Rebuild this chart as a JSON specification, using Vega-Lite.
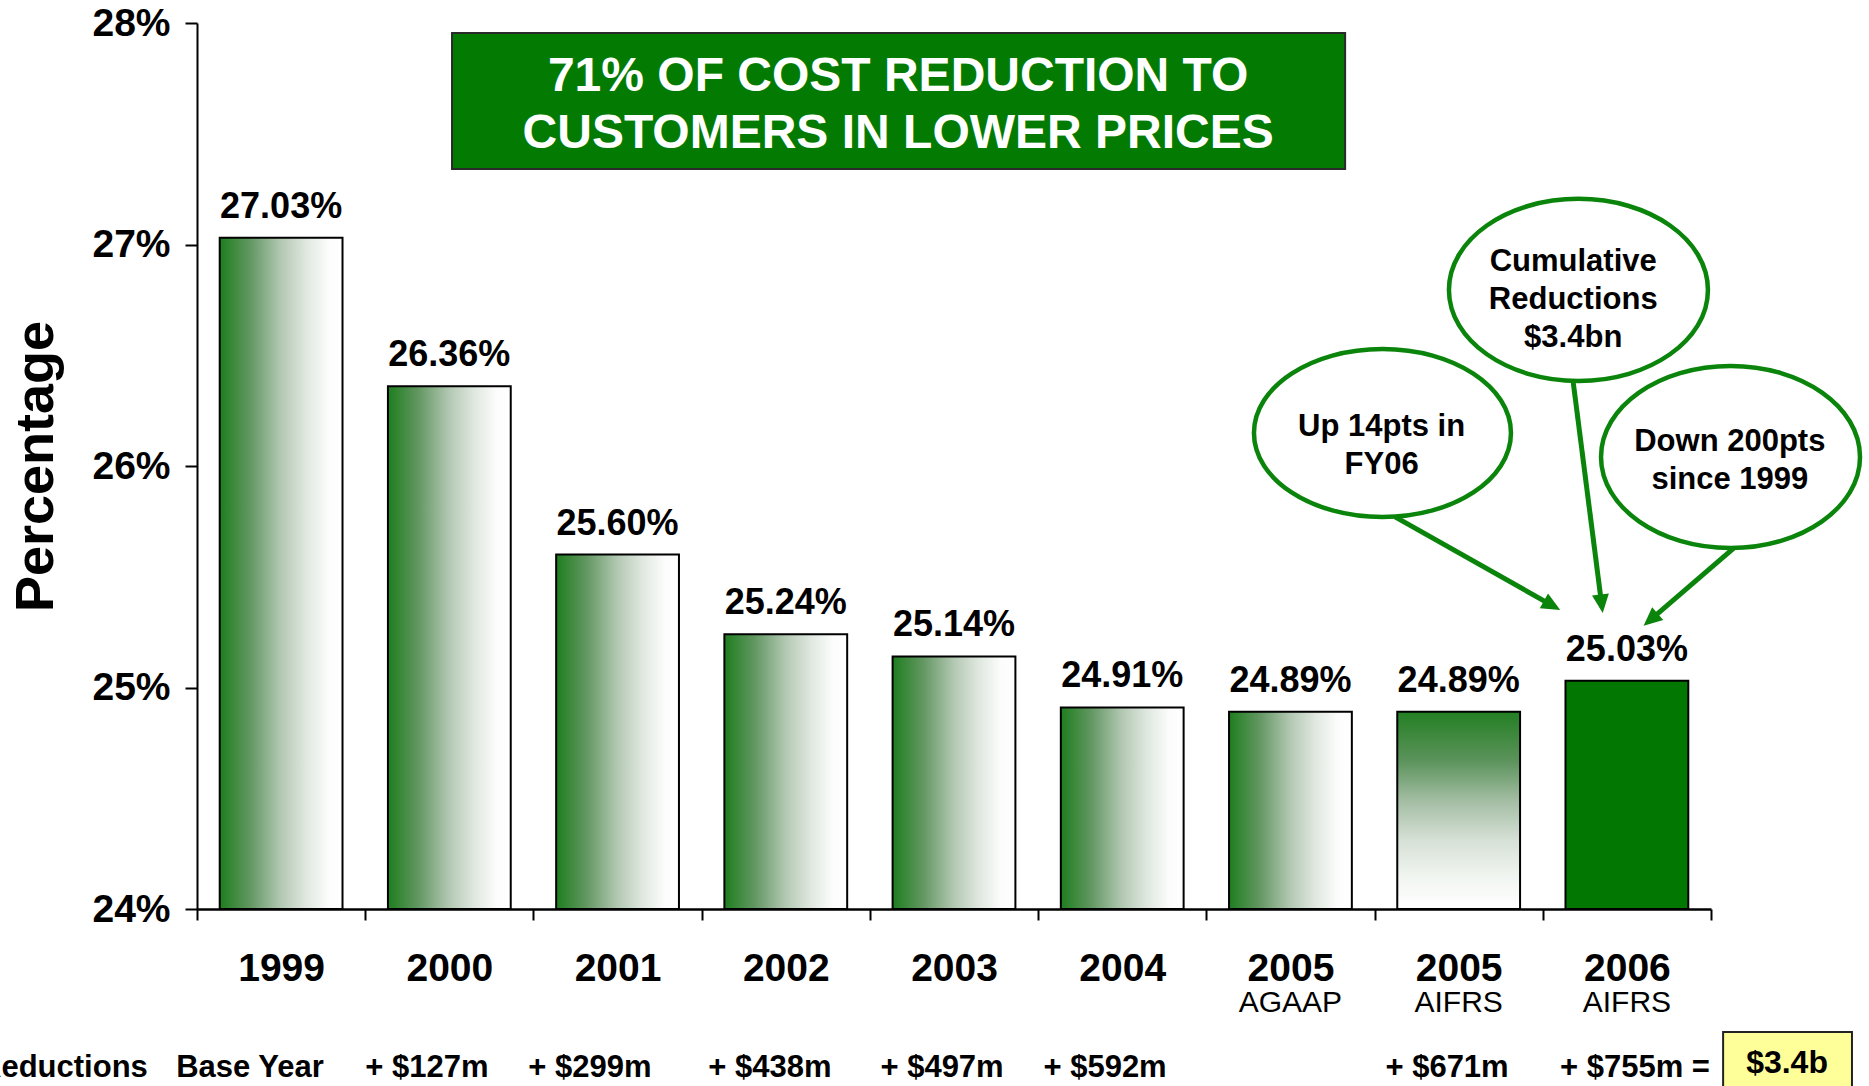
{
  "$schema": "https://vega.github.io/schema/vega-lite/v6.json",
  "width": 1514,
  "height": 886,
  "autosize": {"type": "none"},
  "padding": {"left": 197, "top": 23, "right": 158, "bottom": 177},
  "background": "white",
  "config": {"view": {"stroke": null}, "font": "Liberation Sans"},
  "datasets": {
    "bars": [
      {"cat": "1999", "value": 0.2703, "sub": ""},
      {"cat": "2000", "value": 0.2636, "sub": ""},
      {"cat": "2001", "value": 0.2560, "sub": ""},
      {"cat": "2002", "value": 0.2524, "sub": ""},
      {"cat": "2003", "value": 0.2514, "sub": ""},
      {"cat": "2004", "value": 0.2491, "sub": ""},
      {"cat": "2005 AGAAP", "value": 0.2489, "sub": "AGAAP"},
      {"cat": "2005 AIFRS", "value": 0.2489, "sub": "AIFRS"},
      {"cat": "2006 AIFRS", "value": 0.2503, "sub": "AIFRS"}
    ],
    "box": [{"u1": 1.516, "u2": 6.825, "v1": 0.27955, "v2": 0.27341}],
    "title": [{"u": 4.168, "v": 0.27756, "t": "71% OF COST REDUCTION TO\nCUSTOMERS IN LOWER PRICES"}],
    "ellA": [{"u": 7.047, "v": 0.26149}],
    "ellBC": [{"u": 8.212, "v": 0.26795}, {"u": 9.116, "v": 0.26041}],
    "ellText": [
      {"u": 7.042, "v": 0.26178, "t": "Up 14pts in\nFY06"},
      {"u": 8.181, "v": 0.26921, "t": "Cumulative\nReductions\n$3.4bn"},
      {"u": 9.112, "v": 0.26108, "t": "Down 200pts\nsince 1999"}
    ],
    "arrows": [
      {"id": "A", "u": 7.122, "v": 0.25770, "u2": 8.073, "v2": 0.25363},
      {"id": "B", "u": 8.180, "v": 0.26384, "u2": 8.352, "v2": 0.25363},
      {"id": "C", "u": 9.137, "v": 0.25630, "u2": 8.626, "v2": 0.25296}
    ],
    "reductions": [
      {"u": -0.794, "t": "Reductions"},
      {"u": 0.315, "t": "Base Year"},
      {"u": 1.367, "t": "+ $127m"},
      {"u": 2.336, "t": "+ $299m"},
      {"u": 3.406, "t": "+ $438m"},
      {"u": 4.429, "t": "+ $497m"},
      {"u": 5.398, "t": "+ $592m"},
      {"u": 7.431, "t": "+ $671m"},
      {"u": 8.548, "t": "+ $755m ="}
    ],
    "ybox": [{"u1": 9.072, "u2": 9.838, "v1": 0.23445, "v2": 0.2312}],
    "ytext": [{"u": 9.452, "v": 0.2326, "t": "$3.4b"}]
  },
  "layer": [
    {
      "data": {"name": "bars"},
      "mark": {"type": "bar", "stroke": "black", "strokeWidth": 2, "width": {"band": 0.73}},
      "encoding": {
        "x": {
          "field": "cat", "type": "nominal", "sort": null,
          "scale": {"paddingInner": 0, "paddingOuter": 0},
          "axis": {
            "title": null,
            "labelExpr": "split(datum.label, ' ')[0]",
            "labelAngle": 0,
            "labelFont": "Liberation Sans",
            "labelFontSize": 39,
            "labelFontWeight": "bold",
            "labelColor": "black",
            "labelPadding": 29,
            "tickBand": "extent",
            "tickSize": 11,
            "tickWidth": 2,
            "tickColor": "black",
            "domainColor": "black",
            "domainWidth": 2.5
          }
        },
        "y": {
          "field": "value", "type": "quantitative",
          "scale": {"domain": [0.24, 0.28], "nice": false, "zero": false},
          "axis": {
            "values": [0.24, 0.25, 0.26, 0.27, 0.28],
            "format": ".0%",
            "grid": false,
            "labelFont": "Liberation Sans",
            "labelFontSize": 39,
            "labelFontWeight": "bold",
            "labelColor": "black",
            "labelPadding": 15,
            "tickSize": 12,
            "tickWidth": 2,
            "tickColor": "black",
            "domainColor": "black",
            "domainWidth": 2,
            "title": "Percentage",
            "titleFont": "Liberation Sans",
            "titleFontSize": 54,
            "titleFontWeight": "bold",
            "titleColor": "black",
            "titlePadding": 28
          }
        },
        "y2": {"datum": 0.24},
        "fill": {
          "condition": [
            {"test": "datum.cat === '2006 AIFRS'", "value": "#027802"},
            {"test": "datum.cat === '2005 AIFRS'", "value": {
              "gradient": "linear", "x1": 0, "y1": 0, "x2": 0, "y2": 1,
              "stops": [
                {"offset": 0, "color": "#237f23"},
                {"offset": 0.25, "color": "#5c935c"},
                {"offset": 0.45, "color": "#a3bda3"},
                {"offset": 0.65, "color": "#d6e0d6"},
                {"offset": 0.85, "color": "#f2f6f2"},
                {"offset": 1, "color": "#ffffff"}
              ]
            }}
          ],
          "value": {
            "gradient": "linear", "x1": 0, "y1": 0, "x2": 1, "y2": 0,
            "stops": [
              {"offset": 0, "color": "#1e7e1e"},
              {"offset": 0.25, "color": "#639763"},
              {"offset": 0.5, "color": "#b3c8b3"},
              {"offset": 0.7, "color": "#dfe7df"},
              {"offset": 0.88, "color": "#fbfcfb"},
              {"offset": 1, "color": "#ffffff"}
            ]
          }
        }
      }
    },
    {
      "data": {"name": "bars"},
      "mark": {"type": "text", "baseline": "alphabetic", "dy": -20, "fontSize": 36, "fontWeight": "bold", "color": "black", "font": "Liberation Sans"},
      "encoding": {
        "x": {"field": "cat", "type": "nominal", "sort": null, "scale": {"paddingInner": 0, "paddingOuter": 0}, "axis": null},
        "y": {"field": "value", "type": "quantitative", "scale": {"domain": [0.24, 0.28], "nice": false, "zero": false}},
        "text": {"field": "value", "type": "quantitative", "format": ".2%"}
      }
    },
    {
      "data": {"name": "bars"},
      "mark": {"type": "text", "baseline": "alphabetic", "fontSize": 30, "color": "black", "font": "Liberation Sans"},
      "encoding": {
        "x": {"field": "cat", "type": "nominal", "sort": null, "scale": {"paddingInner": 0, "paddingOuter": 0}, "axis": null},
        "y": {"datum": 0.23535, "type": "quantitative", "scale": {"domain": [0.24, 0.28], "nice": false, "zero": false}},
        "text": {"field": "sub"}
      }
    },
    {
      "data": {"name": "box"},
      "mark": {"type": "rect", "fill": "#037b03", "stroke": "#2a2a2a", "strokeWidth": 2},
      "encoding": {
        "x": {"field": "u1", "type": "quantitative", "scale": {"domain": [0, 9], "nice": false, "zero": false}, "axis": null},
        "x2": {"field": "u2"},
        "y": {"field": "v1", "type": "quantitative", "scale": {"domain": [0.24, 0.28], "nice": false, "zero": false}},
        "y2": {"field": "v2"}
      }
    },
    {
      "data": {"name": "title"},
      "mark": {"type": "text", "lineBreak": "\n", "lineHeight": 57, "fontSize": 48, "fontWeight": "bold", "color": "white", "font": "Liberation Sans", "baseline": "middle", "align": "center"},
      "encoding": {
        "x": {"field": "u", "type": "quantitative", "scale": {"domain": [0, 9], "nice": false, "zero": false}, "axis": null},
        "y": {"field": "v", "type": "quantitative", "scale": {"domain": [0.24, 0.28], "nice": false, "zero": false}},
        "text": {"field": "t"}
      }
    },
    {
      "data": {"name": "ellA"},
      "mark": {"type": "point", "shape": "M1,0C1,0.3612,0.5523,0.654,0,0.654C-0.5523,0.654,-1,0.3612,-1,0C-1,-0.3612,-0.5523,-0.654,0,-0.654C0.5523,-0.654,1,-0.3612,1,0Z", "size": 66049, "filled": false, "stroke": "#0b840b", "strokeWidth": 4.5, "opacity": 1},
      "encoding": {
        "x": {"field": "u", "type": "quantitative", "scale": {"domain": [0, 9], "nice": false, "zero": false}, "axis": null},
        "y": {"field": "v", "type": "quantitative", "scale": {"domain": [0.24, 0.28], "nice": false, "zero": false}}
      }
    },
    {
      "data": {"name": "ellBC"},
      "mark": {"type": "point", "shape": "M1,0C1,0.3883,0.5523,0.703,0,0.703C-0.5523,0.703,-1,0.3883,-1,0C-1,-0.3883,-0.5523,-0.703,0,-0.703C0.5523,-0.703,1,-0.3883,1,0Z", "size": 67081, "filled": false, "stroke": "#0b840b", "strokeWidth": 4.5, "opacity": 1},
      "encoding": {
        "x": {"field": "u", "type": "quantitative", "scale": {"domain": [0, 9], "nice": false, "zero": false}, "axis": null},
        "y": {"field": "v", "type": "quantitative", "scale": {"domain": [0.24, 0.28], "nice": false, "zero": false}}
      }
    },
    {
      "data": {"name": "ellText"},
      "mark": {"type": "text", "lineBreak": "\n", "lineHeight": 38, "fontSize": 31, "fontWeight": "bold", "color": "black", "font": "Liberation Sans", "baseline": "middle", "align": "center"},
      "encoding": {
        "x": {"field": "u", "type": "quantitative", "scale": {"domain": [0, 9], "nice": false, "zero": false}, "axis": null},
        "y": {"field": "v", "type": "quantitative", "scale": {"domain": [0.24, 0.28], "nice": false, "zero": false}},
        "text": {"field": "t"}
      }
    },
    {
      "data": {"name": "arrows"},
      "mark": {"type": "rule", "stroke": "#0b840b", "strokeWidth": 5},
      "encoding": {
        "x": {"field": "u", "type": "quantitative", "scale": {"domain": [0, 9], "nice": false, "zero": false}, "axis": null},
        "y": {"field": "v", "type": "quantitative", "scale": {"domain": [0.24, 0.28], "nice": false, "zero": false}},
        "x2": {"field": "u2"},
        "y2": {"field": "v2"}
      }
    },
    {
      "data": {"name": "arrows"},
      "mark": {"type": "point", "shape": "M0,0.35L-0.5,-0.75L0.5,-0.75Z", "size": 1156, "filled": true, "fill": "#0b840b", "strokeWidth": 0, "opacity": 1},
      "encoding": {
        "x": {"field": "u2", "type": "quantitative", "scale": {"domain": [0, 9], "nice": false, "zero": false}, "axis": null},
        "y": {"field": "v2", "type": "quantitative", "scale": {"domain": [0.24, 0.28], "nice": false, "zero": false}},
        "angle": {
          "condition": [
            {"test": "datum.id === 'A'", "value": 299},
            {"test": "datum.id === 'B'", "value": 353}
          ],
          "value": 49
        }
      }
    },
    {
      "data": {"name": "reductions"},
      "mark": {"type": "text", "baseline": "alphabetic", "align": "center", "fontSize": 31, "fontWeight": "bold", "color": "black", "font": "Liberation Sans"},
      "encoding": {
        "x": {"field": "u", "type": "quantitative", "scale": {"domain": [0, 9], "nice": false, "zero": false}, "axis": null},
        "y": {"datum": 0.23242, "type": "quantitative", "scale": {"domain": [0.24, 0.28], "nice": false, "zero": false}},
        "text": {"field": "t"}
      }
    },
    {
      "data": {"name": "ybox"},
      "mark": {"type": "rect", "fill": "#ffff99", "stroke": "#222222", "strokeWidth": 2},
      "encoding": {
        "x": {"field": "u1", "type": "quantitative", "scale": {"domain": [0, 9], "nice": false, "zero": false}, "axis": null},
        "x2": {"field": "u2"},
        "y": {"field": "v1", "type": "quantitative", "scale": {"domain": [0.24, 0.28], "nice": false, "zero": false}},
        "y2": {"field": "v2"}
      }
    },
    {
      "data": {"name": "ytext"},
      "mark": {"type": "text", "baseline": "alphabetic", "align": "center", "fontSize": 32, "fontWeight": "bold", "color": "black", "font": "Liberation Sans"},
      "encoding": {
        "x": {"field": "u", "type": "quantitative", "scale": {"domain": [0, 9], "nice": false, "zero": false}, "axis": null},
        "y": {"field": "v", "type": "quantitative", "scale": {"domain": [0.24, 0.28], "nice": false, "zero": false}},
        "text": {"field": "t"}
      }
    }
  ],
  "resolve": {"scale": {"x": "independent"}}
}
